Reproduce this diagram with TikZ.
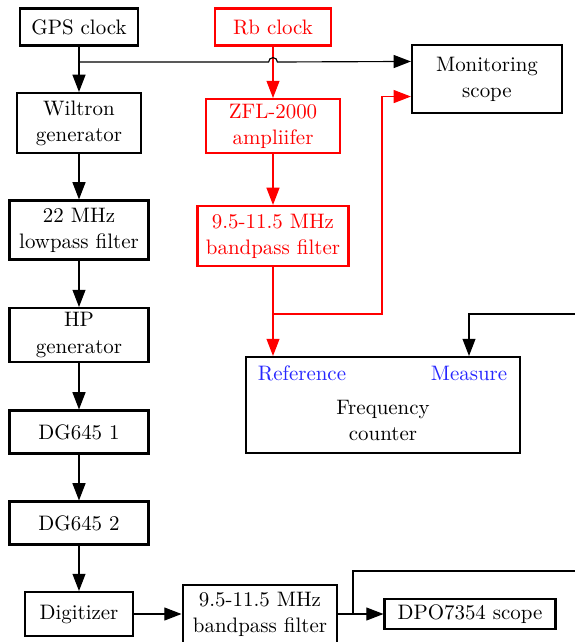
\documentclass[tikz,border=0pt,11pt]{standalone}
\usepackage{tikz}
\usetikzlibrary{positioning, calc, arrows.meta}
\tikzset{
	blockbox/.style={draw, line width=1.1pt, align=center, inner sep=1pt}
}
\tikzset{
	conn/.style={line width=0.6pt, -{Triangle[length=9pt, width=6.8pt]}},
	redconn/.style={conn, red},
	bluetext/.style={font=\normalsize\color{blue!85!white}}
}

\begin{document}
\begin{tikzpicture}[x=0.523pt, y=0.523pt]
  \useasboundingbox (0,0) rectangle (575,-642);
  \clip (0,0) rectangle (575,-642);
  % left column
  \node[blockbox, minimum width=61.7pt, minimum height=19.4pt] (gps) at (79,-27) {GPS clock};
  \node[blockbox, minimum width=64.9pt, minimum height=31.4pt] (wil) at (79,-123) {Wiltron\\generator};
  \node[blockbox, minimum width=72.7pt, minimum height=30.9pt] (lpf) at (79,-230) {22 MHz\\lowpass filter};
  \node[blockbox, minimum width=72.7pt, minimum height=28.2pt] (hp) at (79,-335) {HP\\generator};
  \node[blockbox, minimum width=72.7pt, minimum height=22.5pt] (dga) at (79,-432) {DG645 1};
  \node[blockbox, minimum width=72.7pt, minimum height=22.5pt] (dgb) at (79,-523) {DG645 2};
  \node[blockbox, minimum width=56.5pt, minimum height=23pt] (dig) at (79,-614) {Digitizer};
  \node[blockbox, minimum width=81pt, minimum height=30.3pt] (bbp) at (260,-614) {9.5-11.5 MHz\\bandpass filter};
  \node[blockbox, minimum width=89.4pt, minimum height=15.7pt] (dpo) at (470,-614) {DPO7354 scope};
  % red chain
  \node[blockbox, red, minimum width=60.7pt, minimum height=19.4pt] (rb) at (273,-27) {Rb clock};
  \node[blockbox, red, minimum width=70.1pt, minimum height=28.2pt] (zfl) at (273,-126) {ZFL-2000\\ampliifer};
  \node[blockbox, red, minimum width=79pt, minimum height=31.4pt] (rbp) at (273,-236) {9.5-11.5 MHz\\bandpass filter};
  % right side
  \node[blockbox, minimum width=78.5pt, minimum height=35.6pt] (mon) at (487,-79) {Monitoring\\scope};
  \node[blockbox, minimum width=143.3pt, minimum height=50.2pt] (fc) at (383,-405) {};
  \node[align=center] (fctext) at (383,-420) {Frequency\\counter};
  \node[bluetext] (ref) at (302,-373) {Reference};
  \node[bluetext] (meas) at (469,-373) {Measure};
  % taps
  \coordinate (gtap) at (79,-62);
  \coordinate (rtap) at (273,-314);
  \coordinate (rturn) at (382,-314);
  \coordinate (measin) at (575,-314);
  \coordinate (btap) at (353,-614);
  \coordinate (bout) at (575,-571);
  % connectors
  \draw[conn] (gps) -- (wil);
  \draw[conn] (wil) -- (lpf);
  \draw[conn] (lpf) -- (hp);
  \draw[conn] (hp) -- (dga);
  \draw[conn] (dga) -- (dgb);
  \draw[conn] (dgb) -- (dig);
  \draw[conn] (dig) -- (bbp);
  \draw[conn] (bbp) -- (dpo);
  \draw[line width=0.6pt] (btap) |- (bout);
  \draw[redconn] (rb) -- (zfl);
  \draw[redconn] (zfl) -- (rbp);
  \draw[redconn] (rbp.south) -- (rbp.south |- fc.north);
  \draw[redconn] (rtap) -- (rturn) |- ($(mon.west)!0.5!(mon.south west)$);
  \draw[conn] (gtap) -- ([xshift=-2.3pt]rb.south |- gtap) arc[start angle=180, end angle=0, radius=2.3pt]
    -- ($(mon.west)!0.5!(mon.north west)$);
  \draw[conn] (measin) -| (meas.north |- fc.north);
\end{tikzpicture}
\end{document}
